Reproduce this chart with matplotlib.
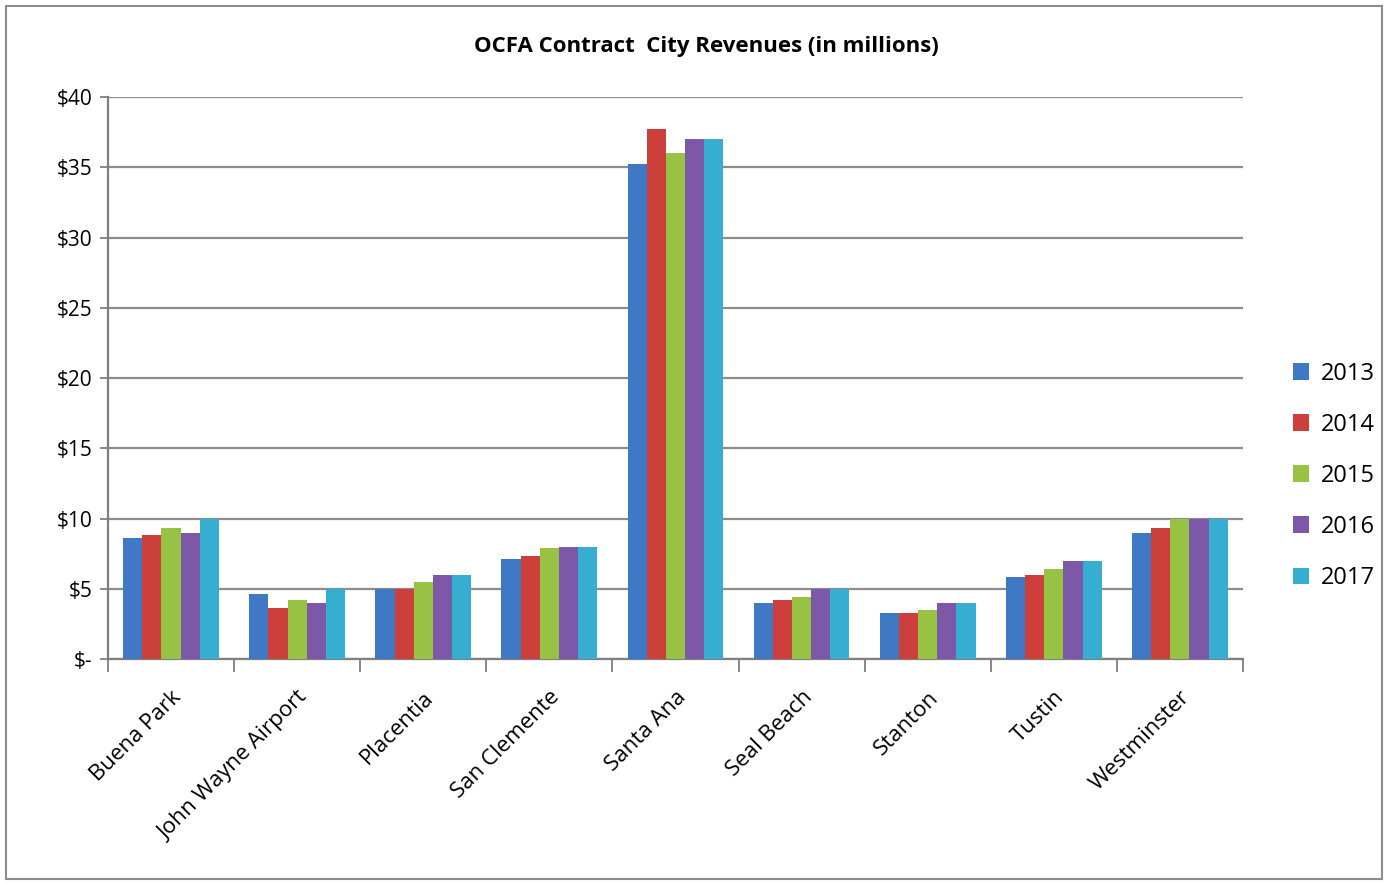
import numpy as np
import matplotlib.pyplot as plt
import matplotlib.transforms as mtransforms
from matplotlib.patches import Rectangle
from matplotlib.ticker import FuncFormatter

plt.rcParams['font.family'] = ['Open Sans', 'DejaVu Sans']

cities = ["Buena Park", "John Wayne Airport", "Placentia", "San Clemente", "Santa Ana",
          "Seal Beach", "Stanton", "Tustin", "Westminster"]
years = ["2013", "2014", "2015", "2016", "2017"]

rev_2013 = [8.6, 4.6, 5.0, 7.15, 35.2, 4.0, 3.3, 5.85, 9.0]
rev_2014 = [8.8, 3.6, 5.0, 7.35, 37.7, 4.2, 3.3, 6.0, 9.35]
rev_2015 = [9.3, 4.2, 5.5, 7.9, 36.0, 4.4, 3.5, 6.4, 10.0]
rev_2016 = [9.0, 4.0, 6.0, 8.0, 37.0, 5.0, 4.0, 6.95, 10.0]
rev_2017 = [10.0, 5.0, 6.0, 8.0, 37.0, 5.0, 4.0, 6.95, 10.0]
series = [rev_2013, rev_2014, rev_2015, rev_2016, rev_2017]

colors = ["#3F78C4", "#CD3F3B", "#98C244", "#7D58A8", "#36AED2"]

fig = plt.figure(figsize=(13.88, 8.82), dpi=100)
ax = fig.add_axes([0.0778, 0.2528, 0.8177, 0.6372])

x = np.arange(len(cities))
w = 0.152
for i, vals in enumerate(series):
    ax.bar(x + (i - 2) * w, vals, width=w, color=colors[i], label=years[i], zorder=3)

ax.set_xlim(-0.5, len(cities) - 0.5)
ax.set_ylim(0, 40)
ax.set_yticks(np.arange(0, 41, 5))
ax.yaxis.set_major_formatter(FuncFormatter(lambda v, p: "$-" if v == 0 else "${:d}".format(int(v))))
ax.grid(axis='y', color='#8c8c8c', linewidth=1.6, zorder=0)

ax.set_xticks(x)
ax.set_xticklabels(cities, rotation=45, ha='right', rotation_mode='anchor', fontsize=16)
shift = mtransforms.ScaledTranslation(0.1, 0, fig.dpi_scale_trans)
for lbl in ax.get_xticklabels():
    lbl.set_transform(lbl.get_transform() + shift)
ax.set_xticks(np.arange(-0.5, len(cities), 1), minor=True)
ax.tick_params(axis='x', which='major', length=0, pad=20)
ax.tick_params(axis='x', which='minor', length=9, width=1.3, color='#7f7f7f')
ax.tick_params(axis='y', length=6, width=1.3, color='#7f7f7f', labelsize=15, pad=5)

for s in ['top', 'right']:
    ax.spines[s].set_visible(False)
for s in ['left', 'bottom']:
    ax.spines[s].set_color('#7f7f7f')
    ax.spines[s].set_linewidth(1.6)

fig.text(0.509, 0.947, "OCFA Contract  City Revenues (in millions)", ha='center', va='center',
         fontsize=16, fontweight='bold')

ax.legend(loc='center left', bbox_to_anchor=(1.025, 0.326), frameon=False, fontsize=17,
          handlelength=0.7, handleheight=0.7, handletextpad=0.5, labelspacing=1.15)

fig.patches.append(Rectangle((0.004, 0.003), 0.992, 0.99, transform=fig.transFigure,
                             fill=False, edgecolor='#8c8c8c', linewidth=1.5))

fig.savefig("out.png", dpi=100)
